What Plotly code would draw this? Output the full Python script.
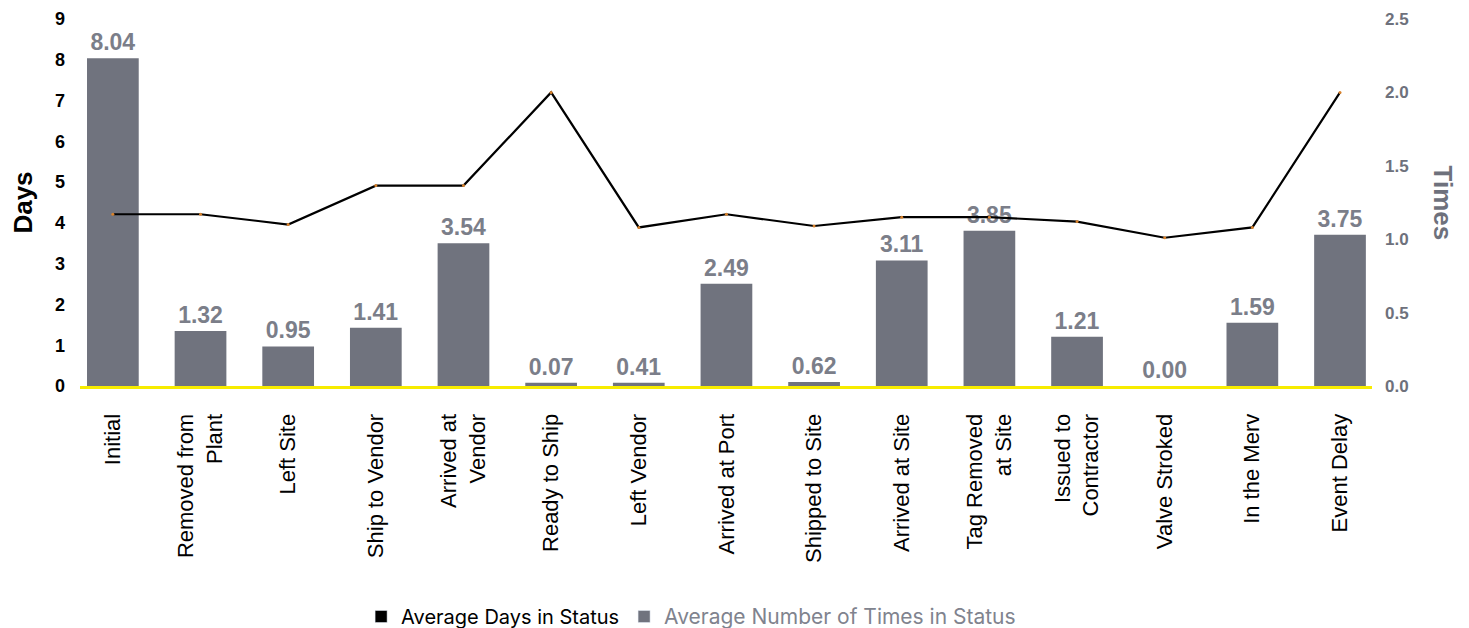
import plotly.graph_objects as go

categories = ["Initial", "Removed from<br>Plant", "Left Site", "Ship to Vendor", "Arrived at<br>Vendor",
              "Ready to Ship", "Left Vendor", "Arrived at Port", "Shipped to Site", "Arrived at Site",
              "Tag Removed<br>at Site", "Issued to<br>Contractor", "Valve Stroked", "In the Merv", "Event Delay"]
days_bar = [8.04, 1.35, 0.97, 1.43, 3.50, 0.08, 0.08, 2.51, 0.10, 3.08, 3.81, 1.21, 0.00, 1.55, 3.71]
days_label = ["8.04", "1.32", "0.95", "1.41", "3.54", "0.07", "0.41", "2.49", "0.62", "3.11",
              "3.85", "1.21", "0.00", "1.59", "3.75"]
times = [1.17, 1.17, 1.10, 1.365, 1.365, 2.0, 1.08, 1.17, 1.09, 1.15, 1.15, 1.12, 1.01, 1.08, 2.0]

GRAY = "#70737e"
LABEL_GRAY = "#7b7e89"
FONT = "Liberation Sans, Arial, sans-serif"

fig = go.Figure()
fig.add_trace(go.Bar(
    x=categories, y=days_bar, text=days_label, textposition="outside",
    textfont=dict(family=FONT, size=23, color=LABEL_GRAY, weight="bold"),
    marker=dict(color=GRAY, line=dict(width=0)), width=0.59, cliponaxis=False,
    showlegend=False, yaxis="y"))
fig.add_trace(go.Scatter(
    x=categories, y=times, mode="lines+markers", line=dict(color="black", width=2.2),
    marker=dict(size=3, color="#d9822b"), showlegend=False, yaxis="y2"))
# legend entries
fig.add_trace(go.Bar(x=[None], y=[None], name="Average Days in Status",
                     marker=dict(color="black"), showlegend=True))
fig.add_trace(go.Bar(x=[None], y=[None],
                     name='<span style="color:#80838e;font-size:21px">Average Number of Times in Status</span>',
                     marker=dict(color=GRAY), showlegend=True))

fig.update_layout(
    width=1469, height=628,
    margin=dict(l=72, r=105, t=11, b=250, autoexpand=False),
    paper_bgcolor="white", plot_bgcolor="white",
    barmode="overlay",
    font=dict(family=FONT, color="black"),
    xaxis=dict(
        type="category", range=[-0.375, 14.365], tickangle=-90, automargin=False,
        tickfont=dict(family=FONT, size=22, color="black"),
        showgrid=False, showline=True, linecolor="#f7ec00", linewidth=3,
        ticks="", ticklabelstandoff=16, zeroline=False),
    yaxis=dict(
        range=[0, 9], dtick=1, showgrid=False, zeroline=False, showline=False, automargin=False,
        tickfont=dict(family=FONT, size=18, color="black", weight="bold"),
        ticklabelstandoff=14,
        title=dict(text="Days", font=dict(family=FONT, size=26, color="black", weight="bold"), standoff=24)),
    yaxis2=dict(
        range=[0, 2.5], dtick=0.5, tickformat=".1f", overlaying="y", side="right", automargin=False,
        showgrid=False, zeroline=False, showline=False,
        tickfont=dict(family=FONT, size=17, color="#6e717c", weight="bold"),
        ticklabelstandoff=12),
    legend=dict(orientation="h", x=0.473, xanchor="center", yref="container", y=0.0, yanchor="bottom",
                font=dict(family="Inter, sans-serif", size=20, color="black"),
                tracegroupgap=0, traceorder="normal"),
    annotations=[dict(text="Times", xref="paper", yref="paper", x=1.0, xanchor="center", xshift=71, y=0.5,
                      textangle=90, showarrow=False,
                      font=dict(family=FONT, size=26, color="#6e717c", weight="bold"))],
)

fig.write_html("out.html")
